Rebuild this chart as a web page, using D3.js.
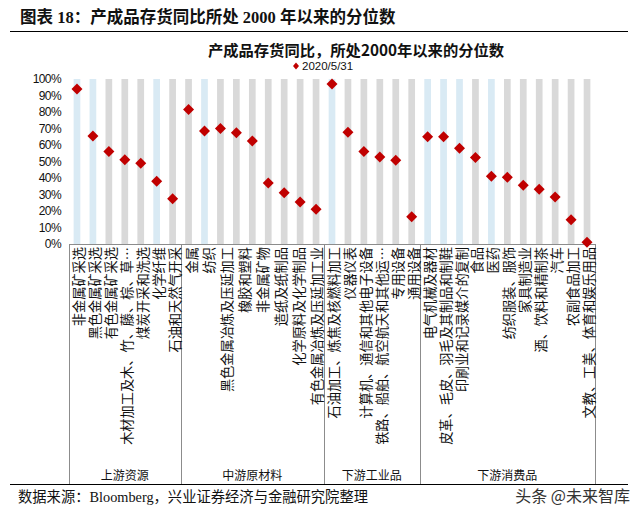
<!DOCTYPE html>
<html><head><meta charset="utf-8">
<script src="https://cdn.jsdelivr.net/npm/d3@7/dist/d3.min.js"></script>
<style>
html,body{margin:0;padding:0;background:#fff;}
svg{display:block;}
</style></head>
<body><div id="chart"></div>
<script>
// ---- data ----
const groupNames = ["上游资源", "中游原材料", "下游工业品", "下游消费品"];
const groupSizes = [7, 9, 6, 11];
const upstreamLabels = ["非金属矿采选", "黑色金属矿采选", "有色金属矿采选", "木材加工及木、竹、藤、棕、草…", "煤炭开采和洗选", "化学纤维", "石油和天然气开采"];
const midstreamLabels = ["金属", "纺织", "黑色金属冶炼及压延加工", "橡胶和塑料", "非金属矿物", "造纸及纸制品", "化学原料及化学制品", "有色金属冶炼及压延加工业"];
const industrialLabels = ["石油加工、炼焦及核燃料加工", "仪器仪表", "计算机、通信和其他电子设备", "铁路、船舶、航空航天和其他运…", "专用设备", "通用设备"];
const consumerLabels = ["电气机械及器材", "皮革、毛皮、羽毛及其制品和制鞋", "印刷业和记录媒介的复制", "食品", "医药", "纺织服装、服饰", "家具制造业", "酒、饮料和精制茶", "汽车", "农副食品加工", "文教、工美、体育和娱乐用品"];
const values = [94, 65.5, 56, 51, 49, 38, 27.5,
                81.5, 68.5, 70, 67.5, 62.5, 37, 31, 25.5, 21,
                97, 67.7, 56, 52.7, 50.7, 16.5,
                65, 65, 58, 52.5, 41, 40.4, 35.6, 33.2, 28.5, 14.7, 1];
const blueBars = [0, 1, 5, 8, 16, 22, 23, 24, 26];
const yTicks = [0, 10, 20, 30, 40, 50, 60, 70, 80, 90, 100];
const seriesName = "2020/5/31";
const figTitle = "图表 18：产成品存货同比所处 2000 年以来的分位数";
const chartTitle = "产成品存货同比，所处2000年以来的分位数";
const sourceText = "数据来源：Bloomberg，兴业证券经济与金融研究院整理";
const watermark = "头条 @未来智库";

(function () {
// ---- layout ----
const W = 640, H = 511;
const pLeft = 69, pRight = 595, pTop = 79, pBottom = 244;
const cjk = "'Noto Sans CJK SC', 'Liberation Serif', serif";
const latin = "'Liberation Sans', Arial, sans-serif";

const svg = d3.select("#chart").append("svg").attr("width", W).attr("height", H);

const idx = d3.range(values.length);
const x = d3.scaleBand().domain(idx).range([pLeft, pRight]).padding(0);
const y = d3.scaleLinear().domain([0, 100]).range([pBottom, pTop]);
const step = x.step();

// figure title
svg.append("text").attr("x", 20).attr("y", 23)
  .attr("font-family", "'Liberation Serif', 'Noto Sans CJK SC', serif")
  .attr("font-weight", "bold").attr("font-size", 16.5).attr("fill", "#111")
  .text(figTitle);
svg.append("line").attr("x1", 10).attr("x2", 628).attr("y1", 31.5).attr("y2", 31.5)
  .attr("stroke", "#000").attr("stroke-width", 1);

// chart title
svg.append("text").attr("x", 356).attr("y", 56).attr("text-anchor", "middle")
  .attr("font-family", cjk).attr("font-weight", "bold").attr("font-size", 15.3).attr("fill", "#111")
  .text(chartTitle);

// legend
const lg = svg.append("g");
lg.append("path").attr("d", "M296,62.5L299,66L296,69.5L293,66Z").attr("fill", "#c00000");
lg.append("text").attr("x", 302).attr("y", 70).attr("font-family", latin).attr("font-size", 11.5)
  .attr("fill", "#111").text(seriesName);

// background bars
svg.append("g").selectAll("rect").data(idx).join("rect")
  .attr("x", d => x(d) + step * 0.29)
  .attr("width", step * 0.42)
  .attr("y", y(100)).attr("height", y(0) - y(100))
  .attr("fill", d => blueBars.includes(d) ? "#d9eaf4" : "#d9d9d9");

// y axis labels
const yAxis = d3.axisLeft(y).tickValues(yTicks).tickSize(0).tickPadding(8).tickFormat(d => d + "%");
const ya = svg.append("g").attr("transform", `translate(${pLeft},0)`).call(yAxis);
ya.select(".domain").remove();
ya.selectAll("text").attr("font-family", latin).attr("font-size", 12).attr("fill", "#111")
  .attr("letter-spacing", "-0.6");

// x axis line
svg.append("line").attr("x1", pLeft).attr("x2", pRight).attr("y1", pBottom + 0.5).attr("y2", pBottom + 0.5)
  .attr("stroke", "#8c8c8c").attr("stroke-width", 1);

// group separators and labels
const groupLabelSets = [upstreamLabels, midstreamLabels, industrialLabels, consumerLabels];
let start = 0;
const sepG = svg.append("g");
const labG = svg.append("g");
groupSizes.forEach((n, g) => {
  const x0 = x(start);
  const x1 = start + n < values.length ? x(start + n) : pRight;
  const labs = groupLabelSets[g];
  const pitch = (x1 - x0) / labs.length;
  labs.forEach((t, j) => {
    const cx = x0 + (j + 0.5) * pitch + 1.5;
    labG.append("text")
      .attr("transform", `translate(${cx},${pBottom + 3}) rotate(-90)`)
      .attr("text-anchor", "end").attr("dominant-baseline", "central")
      .attr("font-family", cjk).attr("font-size", 13.2).attr("fill", "#111")
      .text(t);
  });
  labG.append("text").attr("x", (x0 + x1) / 2).attr("y", 480).attr("text-anchor", "middle")
    .attr("font-family", cjk).attr("font-size", 12).attr("fill", "#111").text(groupNames[g]);
  sepG.append("line").attr("x1", Math.round(x0) + 0.5).attr("x2", Math.round(x0) + 0.5)
    .attr("y1", pBottom).attr("y2", 484).attr("stroke", "#8c8c8c");
  start += n;
});
sepG.append("line").attr("x1", pRight + 0.5).attr("x2", pRight + 0.5)
  .attr("y1", pBottom).attr("y2", 484).attr("stroke", "#8c8c8c");

// bottom rule
svg.append("line").attr("x1", 10).attr("x2", 628).attr("y1", 484.5).attr("y2", 484.5)
  .attr("stroke", "#000").attr("stroke-width", 1);

// markers
const r = 5.5;
svg.append("g").selectAll("path").data(idx).join("path")
  .attr("d", d => {
    const cx = x(d) + step / 2, cy = y(values[d]);
    return `M${cx},${cy - r}L${cx + r},${cy}L${cx},${cy + r}L${cx - r},${cy}Z`;
  })
  .attr("fill", "#c00000");

// source + watermark
svg.append("text").attr("x", 18).attr("y", 502)
  .attr("font-family", "'Liberation Serif', 'Noto Sans CJK SC', serif").attr("font-size", 14.3).attr("fill", "#111")
  .text(sourceText);
svg.append("text").attr("x", 630).attr("y", 502).attr("text-anchor", "end")
  .attr("font-family", cjk).attr("font-size", 16).attr("fill", "#333")
  .text(watermark);
})();
</script></body></html>
